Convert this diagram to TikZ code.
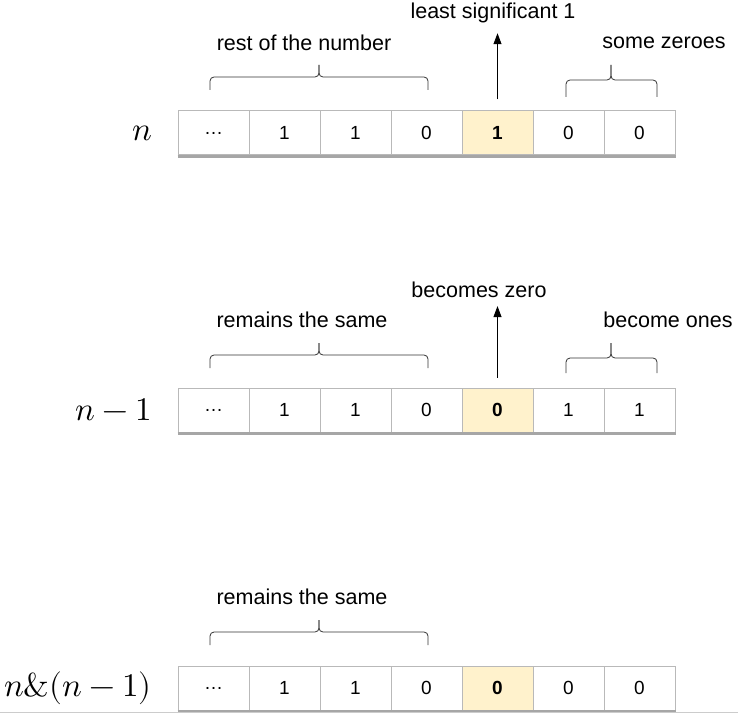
\documentclass[tikz,border=0pt]{standalone}
\usepackage{unicode-math}
\setmathfont{Latin Modern Math}
\newfontfamily\lblfont{Liberation Sans}
\usetikzlibrary{arrows.meta}
\definecolor{hlyellow}{RGB}{255,242,204}

\begin{document}
\begin{tikzpicture}[x=1pt,y=-1pt,
  cell/.style={draw=gray!55,line width=1pt,minimum width=71pt,minimum height=44pt,
    inner sep=0pt,font=\lblfont\fontsize{19}{22}\selectfont},
  lsb/.style={cell,fill=hlyellow,font=\lblfont\bfseries\fontsize{19}{22}\selectfont},
  shadow/.style={draw=gray!70,line width=2.5pt},
  lbl/.style={font=\lblfont\fontsize{21.5}{25}\selectfont,inner sep=2pt},
  var/.style={font=\fontsize{33}{36}\selectfont,anchor=east,inner sep=0pt},
  brc/.style={draw=black!80,line width=0.8pt,rounded corners=4pt},
  arr/.style={draw,line width=0.9pt,-{Triangle[width=8pt,length=11pt]}}]
\useasboundingbox (0,0) rectangle (738,714);

% n
\foreach \i/\v in {1/{\ldots},2/1,3/1,4/0,6/0,7/0}
  \node[cell] (a\i) at (142.5+71*\i,133) {\v};
\node[lsb] (a5) at (497.5,133) {1};
\draw[shadow] ([yshift=-1pt]a1.south west) -- ([yshift=-1pt]a7.south east);
\node[var] (na) at (152,133) {$n$};
\node[lbl] (ta) at (493,13) {least significant 1};
\node[lbl] (tb) at (304,43) {rest of the number};
\node[lbl] (tc) at (664,43) {some zeroes};
\draw[arr] ([yshift=11pt]a5.north) -- ([yshift=-8pt]a5.north |- ta.south);
\draw[brc] (210,90) -- (210,77) -- (319,77) -- (319,65);
\draw[brc] (428,90) -- (428,77) -- (319,77) -- (319,65);
\draw[brc] (566,97) -- (566,80) -- (611,80) -- (611,65);
\draw[brc] (657,97) -- (657,80) -- (611,80) -- (611,65);

% n-1
\foreach \i/\v in {1/{\ldots},2/1,3/1,4/0,6/1,7/1}
  \node[cell] (b\i) at (142.5+71*\i,410) {\v};
\node[lsb] (b5) at (497.5,410) {0};
\draw[shadow] ([yshift=-1pt]b1.south west) -- ([yshift=-1pt]b7.south east);
\node[var] (nb) at (152,410) {$n-1$};
\node[lbl] (td) at (479,290) {becomes zero};
\node[lbl] (te) at (302,320) {remains the same};
\node[lbl] (tf) at (668,320) {become ones};
\draw[arr] ([yshift=10pt]b5.north) -- ([yshift=-6pt]b5.north |- td.south);
\draw[brc] (210,368) -- (210,355) -- (319,355) -- (319,343);
\draw[brc] (428,368) -- (428,355) -- (319,355) -- (319,343);
\draw[brc] (566,373) -- (566,358) -- (611,358) -- (611,343);
\draw[brc] (657,373) -- (657,358) -- (611,358) -- (611,343);

% n&(n-1)
\foreach \i/\v in {1/{\ldots},2/1,3/1,4/0,6/0,7/0}
  \node[cell] (c\i) at (142.5+71*\i,688) {\v};
\node[lsb] (c5) at (497.5,688) {0};
\draw[shadow] ([yshift=-1pt]c1.south west) -- ([yshift=-1pt]c7.south east);
\node[var] (nc) at (152,688) {$n\&(n-1)$};
\node[lbl] (tg) at (302,597) {remains the same};
\draw[brc] (210,645) -- (210,632) -- (319,632) -- (319,620);
\draw[brc] (428,645) -- (428,632) -- (319,632) -- (319,620);

\draw[gray!40,line width=1pt] (0,712.5) -- (738,712.5);
\end{tikzpicture}
\end{document}
